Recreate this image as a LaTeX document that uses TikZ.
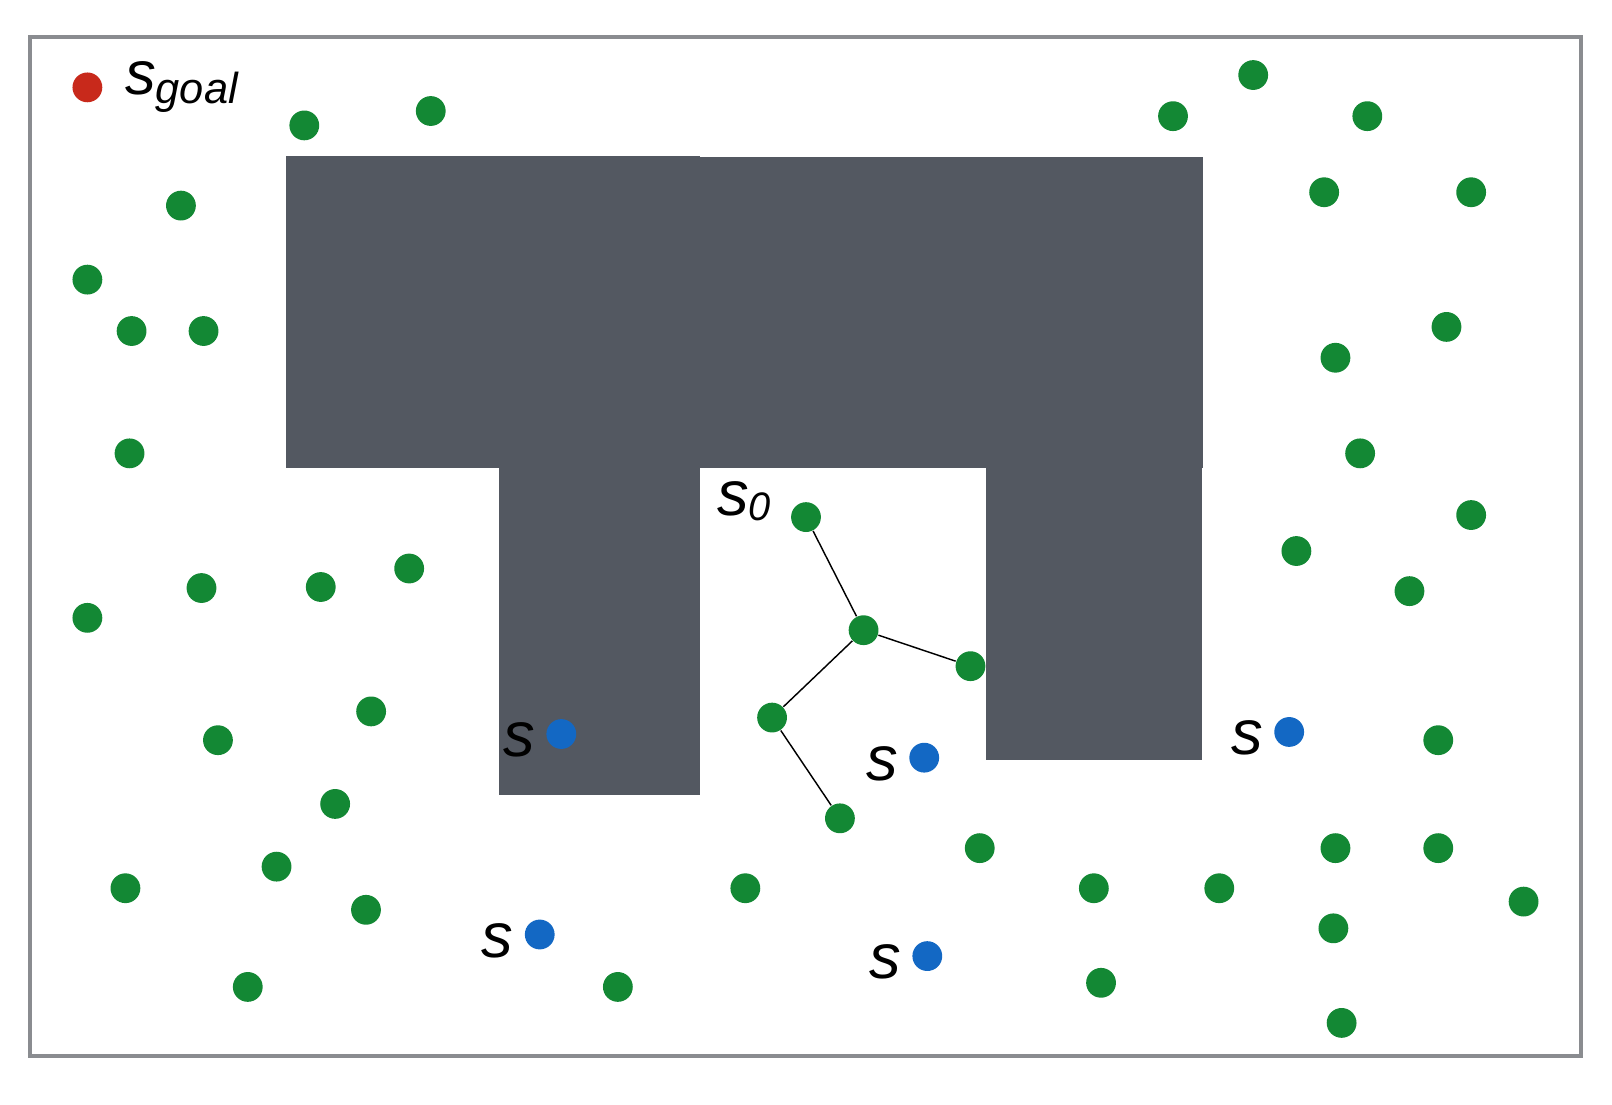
\documentclass[tikz,border=0pt]{standalone}
\usepackage{fontspec}
\setmainfont{Liberation Sans}
\usetikzlibrary{calc}
\definecolor{obstgrey}{HTML}{535861}
\definecolor{framegrey}{HTML}{8A8C90}
\definecolor{ptgreen}{HTML}{138834}
\definecolor{ptblue}{HTML}{1368C4}
\definecolor{ptred}{HTML}{C8291B}
\tikzset{
  gdot/.style={circle,fill=ptgreen,inner sep=0pt,minimum size=2.9mm},
  bdot/.style={circle,fill=ptblue,inner sep=0pt,minimum size=2.9mm},
  rdot/.style={circle,fill=ptred,inner sep=0pt,minimum size=2.9mm},
  slabel/.style={inner sep=0pt,font=\fontsize{17.5}{20}\selectfont\itshape}
}

\begin{document}
\begin{tikzpicture}[x=0.1mm,y=-0.1mm]
\useasboundingbox (0,0) rectangle (1568,1074);
\draw[framegrey,line width=0.4mm] (29,36) rectangle (1538,1027);
% obstacles
\fill[obstgrey] (278,152) rectangle (681,455);
\fill[obstgrey] (681,153) rectangle (1170,455);
\fill[obstgrey] (485,455) rectangle (681,773);
\fill[obstgrey] (959,455) rectangle (1169,739);
% goal
\node[rdot] (goal) at (85,85) {};
\node[anchor=base west,inner sep=0pt,font=\fontsize{17}{20}\selectfont\itshape] (goallbl) at (121,92)
  {s\raisebox{-0.9mm}{\fontsize{12}{14}\selectfont goal}};
% samples
\foreach \x/\y [count=\i] in {296/122, 419/108, 1141/113, 1219/73, 1330/113, 1288/187, 1431/187,
  176/200, 85/272, 128/322, 198/322, 1407/318, 1299/348, 126/441, 1323/441, 1431/501, 1261/536,
  1371/575, 85/601, 196/572, 312/571, 398/553, 361/692, 212/720, 1399/720, 326/782, 269/843,
  122/864, 356/885, 241/960, 601/960, 725/864, 953/825, 1064/864, 1186/864, 1299/825, 1399/825,
  1482/877, 1297/903, 1071/956, 1305/995}
\node[gdot] (g\i) at (\x,\y) {};
% tree
\node[gdot] (t0) at (784,503) {};
\node[gdot] (t1) at (840,613) {};
\node[gdot] (t2) at (944,648) {};
\node[gdot] (t3) at (751,698) {};
\node[gdot] (t4) at (817,796) {};
\draw[thin] (t0) -- (t1);
\draw[thin] (t1) -- (t2);
\draw[thin] (t1) -- (t3);
\draw[thin] (t3) -- (t4);
\node[slabel,anchor=base west] (startlbl) at (697,501) {s\raisebox{-0.5mm}{\fontsize{11}{13}\selectfont 0}};
% new samples
\foreach \x/\y [count=\i] in {546/714, 899/737, 1254/712, 525/909, 902/930} {
\node[bdot] (b\i) at (\x,\y) {};
\node[slabel] (s\i) at ($(b\i)+(-41,6)$) {s};
}
\end{tikzpicture}
\end{document}
